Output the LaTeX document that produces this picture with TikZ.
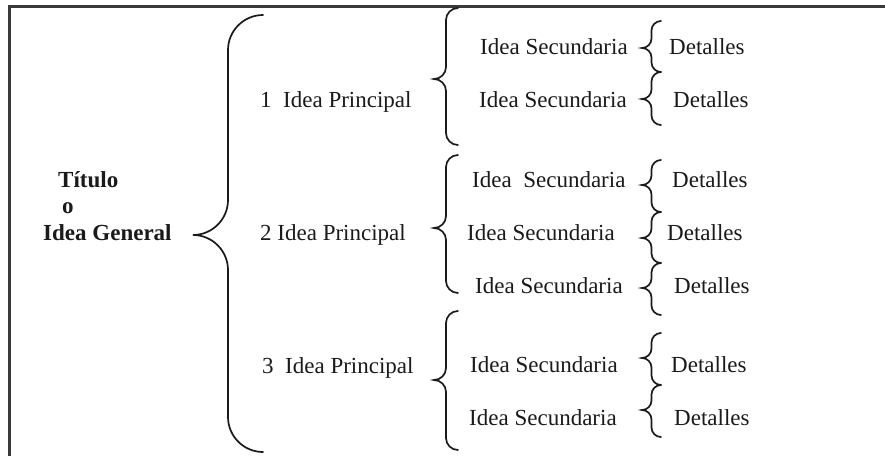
\documentclass[tikz,border=0pt]{standalone}
\usepackage{fontspec}
\setmainfont{Liberation Serif}
\usepackage{xcolor}
\definecolor{tinta}{HTML}{1A1A1A}
\definecolor{borde}{HTML}{3A3A3A}

% #1 x of the ends, #2 top y, #3 tip y, #4 bottom y, #5 half width
\newcommand{\llave}[5]{%
  \draw[llave] (#1,#2)
    .. controls ({#1-0.55*#5},#2) and ({#1-#5},{#2+0.45*#5}) .. ({#1-#5},{#2+#5})
    -- ({#1-#5},{#3-#5})
    .. controls ({#1-#5},{#3-0.45*#5}) and ({#1-1.45*#5},#3) .. ({#1-2*#5},#3)
    .. controls ({#1-1.45*#5},#3) and ({#1-#5},{#3+0.45*#5}) .. ({#1-#5},{#3+#5})
    -- ({#1-#5},{#4-#5})
    .. controls ({#1-#5},{#4-0.45*#5}) and ({#1-0.55*#5},#4) .. (#1,#4);}

\tikzset{
  llave/.style={draw=tinta,line width=1.7pt,line cap=round},
  texto/.style={anchor=base west,inner sep=0pt,text=tinta,font=\fontsize{23}{27}\selectfont},
  negrita/.style={texto,font=\fontsize{23}{27}\selectfont\bfseries},
}

\begin{document}
\begin{tikzpicture}[x=1pt,y=-1pt]
      \useasboundingbox (0,0) rectangle (885,455);
      \draw [borde,line width=2.6pt] (886,6.5) -- (9.5,6.5) -- (9.5,456);% frame, cut at right and bottom
      % general idea
      \node (tit) [negrita] at (58,187) {Título};
      \node (o) [negrita] at (62,213) {o};
      \node (gen) [negrita] at (43,240) {Idea General};
      % main ideas
      \node (p1) [texto] at (260,107) {1\ \ Idea Principal};
      \node (p2) [texto] at (260,240) {2 Idea Principal};
      \node (p3) [texto] at (262,373) {3\ \ Idea Principal};
      % secondary ideas
      \node (s1) [texto] at (480,54) {Idea Secundaria};
      \node (s2) [texto] at (479,107) {Idea Secundaria};
      \node (s3) [texto] at (472,187) {Idea\ \ Secundaria};
      \node (s4) [texto] at (467,240) {Idea Secundaria};
      \node (s5) [texto] at (475,293) {Idea Secundaria};
      \node (s6) [texto] at (470,372) {Idea Secundaria};
      \node (s7) [texto] at (469,425) {Idea Secundaria};
      % details
      \node (d1) [texto] at (669,54) {Detalles};
      \node (d2) [texto] at (673,107) {Detalles};
      \node (d3) [texto] at (672,187) {Detalles};
      \node (d4) [texto] at (667,240) {Detalles};
      \node (d5) [texto] at (674,293) {Detalles};
      \node (d6) [texto] at (671,372) {Detalles};
      \node (d7) [texto] at (674,425) {Detalles};
      % braces
      \llave{263}{15}{235}{452}{35}
      \llave{458}{8}{79}{145}{12}
      \llave{458}{155}{228}{293}{12}
      \llave{458}{311}{380}{450}{12}
      \llave{661}{21}{48}{72}{9.5}
      \llave{661}{72}{99}{125}{9.5}
      \llave{661}{160}{185}{212}{9.5}
      \llave{661}{212}{238}{263}{9.5}
      \llave{661}{263}{288}{315}{9.5}
      \llave{661}{333}{358}{385}{9.5}
      \llave{661}{385}{410}{437}{9.5}
    \end{tikzpicture}
\end{document}
